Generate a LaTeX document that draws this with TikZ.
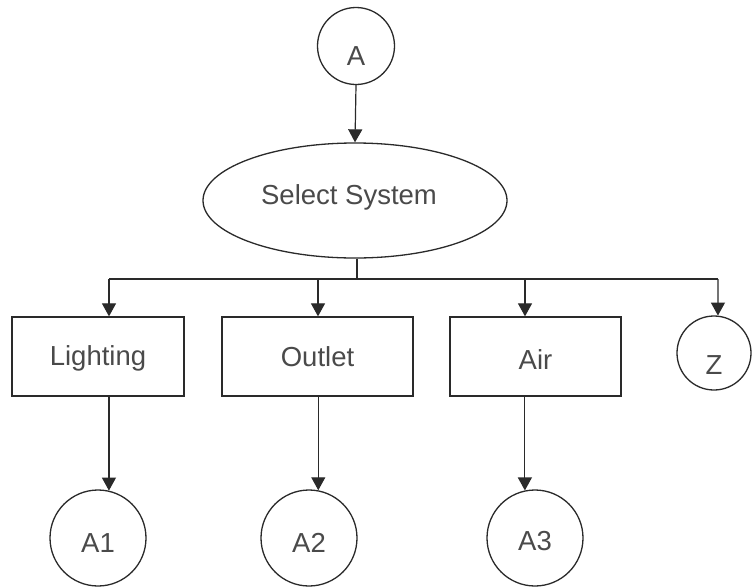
\documentclass[tikz,border=0pt]{standalone}
\usepackage{fontspec}
\setmainfont{Liberation Sans}
\usetikzlibrary{shapes.geometric,arrows.meta}
\definecolor{ln}{HTML}{2A2A2A}
\definecolor{tx}{HTML}{4A4A4A}
\newcommand{\lowr}[2]{\raisebox{-#1}[\height][\depth]{#2}}
\tikzset{
  shp/.style={draw=ln, line width=1.3pt, fill=white, text=tx, font=\fontsize{27.5}{30}\selectfont, inner sep=0pt},
  circ/.style={shp, circle},
  boxx/.style={shp, rectangle, minimum height=79pt},
  ell/.style={shp, ellipse, minimum width=304pt, minimum height=115pt},
  wire/.style={draw=ln, line width=1.2pt},
  arr/.style={wire, -{Triangle[width=14pt,length=13pt]}}
}
\begin{document}
\begin{tikzpicture}[x=1pt,y=-1pt]
\useasboundingbox (0,0) rectangle (752,587);
\fill[white] (0,0) rectangle (752,587);
% nodes
\node[circ, minimum size=77pt] (A) at (356,46) {\lowr{10pt}{A}};
\node[ell] (sel) at (355,200.5) {\lowr{-3pt}{Select System\hspace{12pt}}};
\node[boxx, minimum width=172pt] (light) at (98,356.5) {\lowr{2pt}{Lighting}};
\node[boxx, minimum width=191pt] (outlet) at (317.5,356.5) {Outlet};
\node[boxx, minimum width=171pt] (air) at (535.5,356.5) {\lowr{3pt}{Air}};
\node[circ, minimum size=74pt] (Z) at (714,353) {\lowr{12pt}{Z}};
\node[circ, minimum size=96pt] (a1) at (98,538) {\lowr{5pt}{A1}};
\node[circ, minimum size=96pt] (a2) at (309,538) {\lowr{5pt}{A2}};
\node[circ, minimum size=96pt] (a3) at (535,538) {\lowr{3pt}{A3}};
% bus coordinates
\coordinate (bus) at (357,279);
\coordinate (d1) at (109,279);
\coordinate (d2) at (318,279);
\coordinate (d3) at (525,279);
\coordinate (d4) at (718,279);
% connectors
\draw[arr] (A.south) -- (sel.north);
\draw[wire] (sel.south -| bus) -- (bus);
\draw[wire] (d1) -- (d4);
\draw[arr] (d1) -- (d1 |- light.north);
\draw[arr] (d2) -- (d2 |- outlet.north);
\draw[arr] (d3) -- (d3 |- air.north);
\draw[arr] (d4) -- (Z.84);
\draw[arr] (light.south -| a1.77) -- (a1.77);
\draw[arr] (outlet.south -| a2.79) -- (a2.79);
\draw[arr] (air.south -| a3.102) -- (a3.102);
\end{tikzpicture}
\end{document}
